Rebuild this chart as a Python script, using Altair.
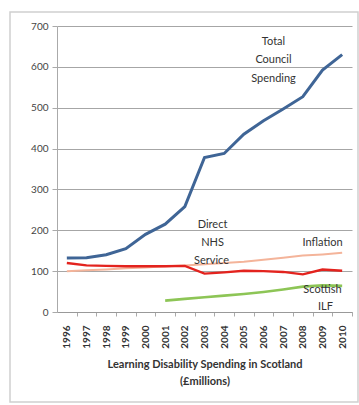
import altair as alt
import pandas as pd

years = [str(y) for y in range(1996, 2011)]
total_council = [132, 133, 140, 155, 190, 215, 258, 378, 388, 435, 468, 497, 527, 592, 630]
direct_nhs = [120, 114, 113, 112, 112, 112, 113, 94, 97, 101, 100, 98, 92, 104, 101]
inflation = [100, 102, 104, 107, 109, 112, 114, 117, 120, 123, 128, 133, 138, 141, 145]
scottish_ilf = [None, None, None, None, None, 28, 32, 36, 40, 44, 49, 55, 62, 65, 64]

series_names = ["Inflation", "Direct NHS Service", "Scottish ILF", "Total Council Spending"]
series_colors = ["#f4b49a", "#e3231e", "#8dc556", "#3f6596"]
series_widths = [2, 3, 2.5, 2.5]

ann_text = ["Total", "Council", "Spending", "Direct", "NHS", "Service", "Inflation", "Scottish", "ILF"]
ann_year = ["2006", "2006", "2006", "2003", "2003", "2003", "2009", "2009", "2009"]
ann_value = [661, 617, 570, 213, 169, 125, 169, 54, 12]
ann_dx = [10, 10, 10, 8, 8, 7, 0, 0, 3]

rows = []
for name, vals in zip(series_names, [inflation, direct_nhs, scottish_ilf, total_council]):
    for y, v in zip(years, vals):
        if v is not None:
            rows.append({"year": y, "value": v, "series": name})
df = pd.DataFrame(rows)

FONT = "Lato"
xscale = alt.Scale(type="point", domain=years, padding=0.5)
yscale = alt.Scale(domain=[0, 700])

x_axis = alt.Axis(
    title=["Learning Disability Spending in Scotland", "(£millions)"],
    titleFont=FONT, titleFontSize=11, titleFontWeight="bold", titleColor="#333333",
    titlePadding=10, titleLineHeight=17,
    labelAngle=-90, labelFont=FONT, labelFontSize=10, labelFontWeight="bold",
    labelColor="#333333", labelPadding=9,
    tickOffset=9.8, labelOffset=-9.8, tickSize=4, tickColor="#aaaaaa",
    domainColor="#999999", grid=False,
)
y_axis = alt.Axis(
    title=None, values=[0, 100, 200, 300, 400, 500, 600, 700],
    labelFont=FONT, labelFontSize=10, labelColor="#444444", labelPadding=4,
    tickSize=5, tickColor="#aaaaaa", domainColor="#aaaaaa",
    grid=True, gridColor="#a6a6a6", gridWidth=1,
)

border = alt.Chart(pd.DataFrame({"a": [0]})).mark_rect(
    filled=False, stroke="#d0d0d0", strokeWidth=1.5
).encode(x=alt.value(-47), x2=alt.value(301), y=alt.value(-14), y2=alt.value(376))

lines = alt.Chart(df).mark_line(interpolate="linear").encode(
    x=alt.X("year:N", scale=xscale, axis=x_axis, sort=years),
    y=alt.Y("value:Q", scale=yscale, axis=y_axis),
    color=alt.Color("series:N", scale=alt.Scale(domain=series_names, range=series_colors), legend=None),
    strokeWidth=alt.StrokeWidth("series:N", scale=alt.Scale(domain=series_names, range=series_widths), legend=None),
    order=alt.Order("series:N"),
    detail="series:N",
)

texts = []
for t, yr, v, dx in zip(ann_text, ann_year, ann_value, ann_dx):
    texts.append(
        alt.Chart(pd.DataFrame({"text": [t], "year": [yr], "value": [v]})).mark_text(
            font=FONT, fontSize=11, color="#333333", dx=dx, align="center", baseline="middle"
        ).encode(
            x=alt.X("year:N", scale=xscale, sort=years),
            y=alt.Y("value:Q", scale=yscale),
            text="text:N",
        )
    )

chart = alt.layer(lines, *texts, border).properties(
    width=295, height=286,
    autosize=alt.AutoSizeParams(type="none"),
    padding={"left": 57, "top": 26, "right": 7, "bottom": 93},
    background="white",
).configure_view(stroke=None)

chart.save("out.html", embed_options={"renderer": "svg", "actions": False})
